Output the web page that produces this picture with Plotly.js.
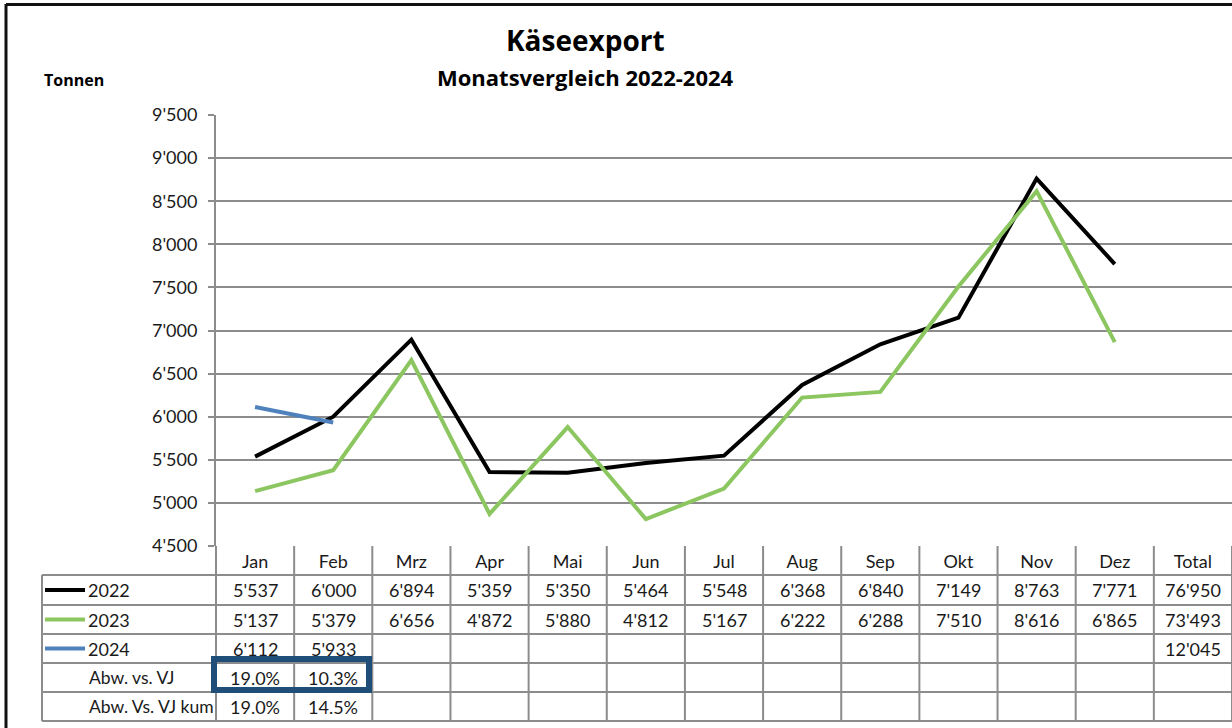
<!DOCTYPE html>
<html>
<head>
<meta charset="utf-8">
<script src="https://cdn.plot.ly/plotly-3.0.1.min.js"></script>
<style>html,body{margin:0;padding:0;background:#fff;}#chart{width:1232px;height:728px;}</style>
</head>
<body>
<div id="chart"></div>
<script>
const months = ['Jan','Feb','Mrz','Apr','Mai','Jun','Jul','Aug','Sep','Okt','Nov','Dez'];
const columns = months.concat(['Total']);
const y2022 = [5537,6000,6894,5359,5350,5464,5548,6368,6840,7149,8763,7771];
const y2023 = [5137,5379,6656,4872,5880,4812,5167,6222,6288,7510,8616,6865];
const y2024 = [6112,5933];
const seriesNames = ['2022','2023','2024'];
const seriesColors = ['#000000','#8cc660','#4f81bd'];
const totals = [76950,73493,12045];
const abwVJ = [19.0,10.3];
const abwVJkum = [19.0,14.5];
const rowLabels = ['Abw. vs. VJ','Abw. Vs. VJ kum'];

const FONT = 'Lato, "Open Sans", sans-serif';
const TFONT = '"Open Sans", Lato, sans-serif';
const FS = 18;
const TXT = '#1a1a1a';
const GRID = '#8c8c8c';
// plot area in pixels
const L = 216, T = 115, W = 1016, H = 431, B = T + H;
const fx = px => (px - L) / W;
const fy = py => (B - py) / H;
const fmt = n => String(n).replace(/\B(?=(\d{3})+(?!\d))/g, "'");

const allSeries = [y2022, y2023, y2024];
const traces = allSeries.map((vals, i) => ({
  type: 'scatter', mode: 'lines',
  x: months.slice(0, vals.length), y: vals,
  name: seriesNames[i],
  line: {color: seriesColors[i], width: 4},
  hoverinfo: 'x+y'
}));

// table geometry (pixels)
const rowEdges = [546, 575, 605, 634, 663, 692, 721];
const tableLeft = 42;
const shapes = [];
const annotations = [];

for (let r = 1; r < rowEdges.length; r++) {
  shapes.push({type:'line', xref:'paper', yref:'paper', x0: fx(tableLeft), x1: 1, y0: fy(rowEdges[r]), y1: fy(rowEdges[r]), line:{color:GRID, width:2}, layer:'above'});
}
shapes.push({type:'line', xref:'paper', yref:'paper', x0: fx(tableLeft), x1: fx(tableLeft), y0: fy(rowEdges[1]), y1: fy(rowEdges[6]), line:{color:GRID, width:2}});
for (let i = 0; i <= columns.length; i++) {
  const px = L + i * W / columns.length;
  shapes.push({type:'line', xref:'paper', yref:'paper', x0: fx(px), x1: fx(px), y0: fy(rowEdges[0]), y1: fy(rowEdges[6]), line:{color:GRID, width:2}});
}

const rowCenter = r => fy((rowEdges[r] + rowEdges[r + 1]) / 2);

allSeries.forEach((vals, s) => {
  const yc = rowCenter(s + 1);
  shapes.push({type:'line', xref:'paper', yref:'paper', x0: fx(45), x1: fx(85), y0: yc, y1: yc, line:{color: seriesColors[s], width: 4}});
  annotations.push({xref:'paper', yref:'paper', x: fx(86), y: yc, xanchor:'left', yanchor:'middle', text: seriesNames[s], showarrow:false, font:{family:FONT, size:FS, color:TXT}});
  vals.forEach((v, i) => {
    annotations.push({xref:'x', yref:'paper', x: months[i], y: yc, xanchor:'center', yanchor:'middle', text: fmt(v), showarrow:false, font:{family:FONT, size:FS, color:TXT}});
  });
  annotations.push({xref:'x', yref:'paper', x: 'Total', y: yc, xanchor:'center', yanchor:'middle', text: fmt(totals[s]), showarrow:false, font:{family:FONT, size:FS, color:TXT}});
});

[abwVJ, abwVJkum].forEach((vals, k) => {
  const yc = rowCenter(4 + k);
  annotations.push({xref:'paper', yref:'paper', x: fx(87), y: yc, xanchor:'left', yanchor:'middle', text: rowLabels[k], showarrow:false, font:{family:FONT, size:17.5, color:TXT}});
  vals.forEach((v, i) => {
    annotations.push({xref:'x', yref:'paper', x: months[i], y: yc, xanchor:'center', yanchor:'middle', text: v.toFixed(1) + '%', showarrow:false, font:{family:FONT, size:FS, color:TXT}});
  });
});

shapes.push({type:'rect', xref:'paper', yref:'paper', x0: fx(214), x1: fx(369), y0: fy(659), y1: fy(690), line:{color:'#1f4e79', width:6}, layer:'above'});

shapes.push({type:'line', xref:'paper', yref:'paper', x0: fx(6), x1: fx(6), y0: fy(4), y1: fy(740), line:{color:'#111', width:3}});
shapes.push({type:'line', xref:'paper', yref:'paper', x0: fx(6), x1: fx(1240), y0: fy(4.5), y1: fy(4.5), line:{color:'#111', width:3}});

annotations.push({xref:'paper', yref:'paper', x: fx(585), y: fy(40), xanchor:'center', yanchor:'middle', text:'<b>Käseexport</b>', showarrow:false, font:{family:TFONT, size:28, color:'#000'}});
annotations.push({xref:'paper', yref:'paper', x: fx(585), y: fy(77), xanchor:'center', yanchor:'middle', text:'<b>Monatsvergleich 2022-2024</b>', showarrow:false, font:{family:TFONT, size:22, color:'#000'}});
annotations.push({xref:'paper', yref:'paper', x: fx(42), y: fy(80), xanchor:'left', yanchor:'middle', text:'<b>Tonnen</b>', showarrow:false, font:{family:TFONT, size:16, color:'#000'}});

const layout = {
  width: 1232, height: 728,
  margin: {l: L, r: 1232 - L - W, t: T, b: 728 - B},
  paper_bgcolor: '#fff', plot_bgcolor: '#fff',
  separators: ".'",
  showlegend: false,
  xaxis: {
    type: 'category', categoryorder: 'array', categoryarray: columns,
    range: [-0.5, columns.length - 0.5],
    showgrid: false, zeroline: false, showline: false, ticks: '',
    ticklabelstandoff: 3,
    tickfont: {family: FONT, size: FS, color: TXT},
    fixedrange: true
  },
  yaxis: {
    range: [4500, 9500], tick0: 4500, dtick: 500,
    tickformat: ',d',
    showgrid: true, gridcolor: GRID, gridwidth: 2,
    zeroline: false, showline: true, linecolor: GRID, linewidth: 2,
    ticks: 'outside', ticklen: 6, tickcolor: GRID, tickwidth: 2,
    ticklabelstandoff: 7,
    tickfont: {family: FONT, size: FS, color: TXT},
    fixedrange: true
  },
  shapes: shapes,
  annotations: annotations
};

Plotly.newPlot('chart', traces, layout, {displayModeBar: false, staticPlot: true});
</script>
</body>
</html>
